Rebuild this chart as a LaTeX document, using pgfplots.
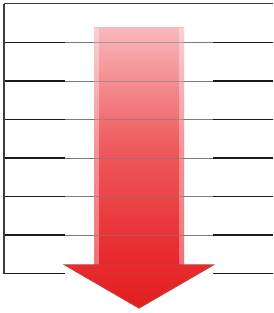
\documentclass[border=0pt]{standalone}
\usepackage{pgfplots}
\pgfplotsset{compat=1.18}
\definecolor{pinktop}{HTML}{F8B8BC}
\definecolor{redmid}{HTML}{EE5A5E}
\definecolor{redbot}{HTML}{E8262A}
\definecolor{headtop}{HTML}{EA2A2C}
\definecolor{headbot}{HTML}{E01E20}
\definecolor{headedge}{HTML}{C83C3C}
\definecolor{gridblack}{HTML}{1A1A1A}
\definecolor{gridgray}{HTML}{7A7A7A}
\begin{document}
\begin{tikzpicture}
\begin{axis}[
  scale only axis, width=273bp, height=313bp,
  xmin=0, xmax=273, ymin=0, ymax=313,
  hide axis, clip=false,
]
% background
\addplot[fill=white, draw=none] coordinates {(0,0) (273,0) (273,313) (0,313)} -- cycle;
% outer grid segments (left and right parts)
\foreach \yy in {270.5,232,193.5,155,116.5,78,39.5} {
  \edef\temp{\noexpand\addplot[gridblack, line width=1.2bp] coordinates {(4,\yy) (65,\yy)};
  \noexpand\addplot[gridblack, line width=1.2bp] coordinates {(213,\yy) (273,\yy)};}
  \temp
}
% middle thin grid segments
\foreach \yy in {270.5,232,193.5,155,116.5,78} {
  \edef\temp{\noexpand\addplot[gridgray, line width=0.8bp] coordinates {(65,\yy) (213,\yy)};}
  \temp
}
% top line and left border
\addplot[gridblack!85, line width=1bp] coordinates {(4,309) (273,309)};
\addplot[gridblack!85, line width=1.2bp] coordinates {(4,309) (4,39)};
% arrow shaft
\addplot[draw=none, top color=pinktop, bottom color=redbot, middle color=redmid] coordinates {(94,285) (184,285) (184,48) (94,48)} -- cycle;
% shaft lighter edges
\addplot[draw=none, fill=white, fill opacity=0.35] coordinates {(94,285) (99,285) (99,48) (94,48)} -- cycle;
\addplot[draw=none, fill=white, fill opacity=0.35] coordinates {(179,285) (184,285) (184,48) (179,48)} -- cycle;
% arrow head
\addplot[draw=headedge, line width=1.2bp, top color=headtop, bottom color=headbot] coordinates {(65,48) (213,48) (139,5)} -- cycle;
% grid lines faintly visible through arrow
\foreach \yy in {270.5,232,193.5,155,116.5,78} {
  \edef\temp{\noexpand\addplot[gridgray, line width=0.8bp, opacity=0.55] coordinates {(94,\yy) (184,\yy)};}
  \temp
}
\addplot[headedge, line width=0.8bp, opacity=0.6] coordinates {(79,39.5) (199,39.5)};
\end{axis}
\end{tikzpicture}
\end{document}
